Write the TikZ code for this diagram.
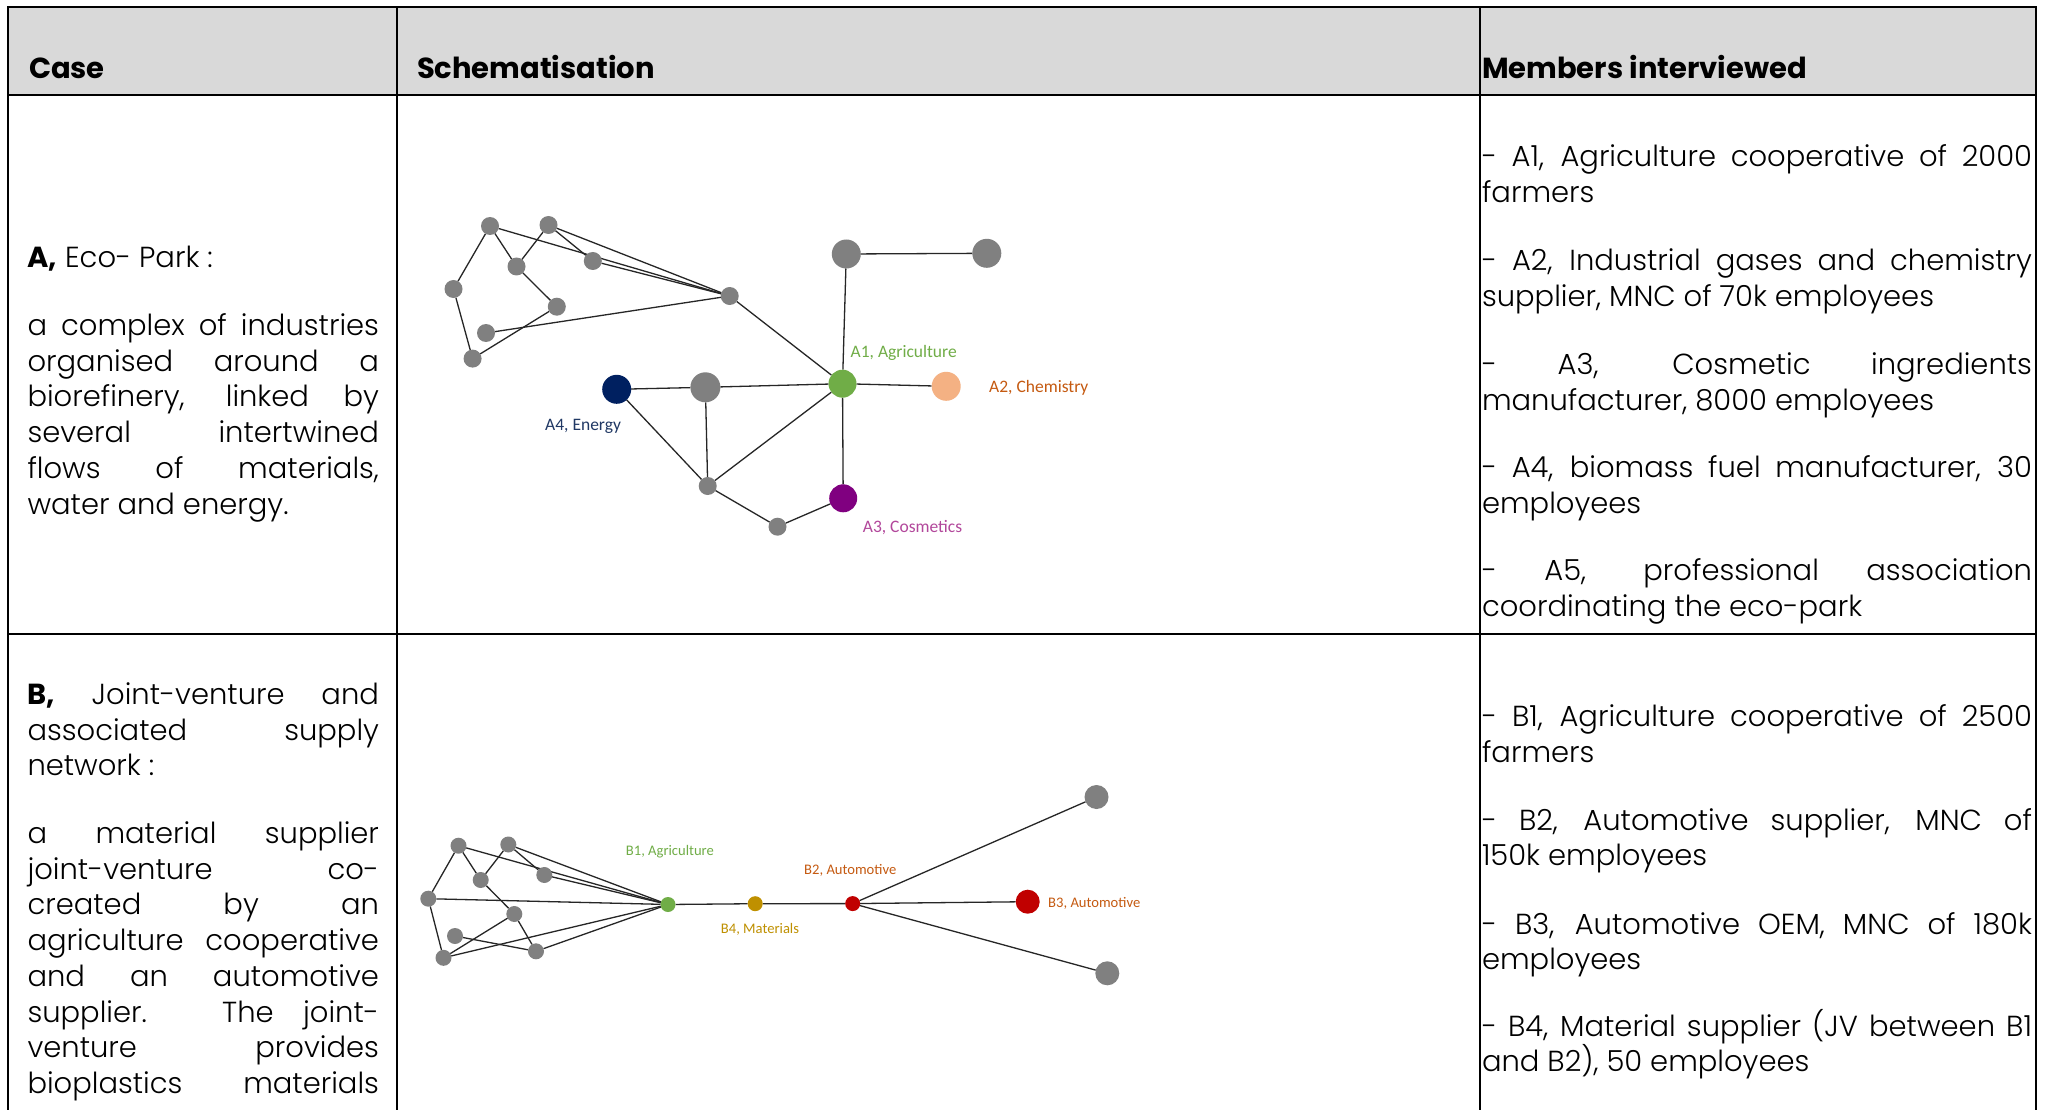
\documentclass[tikz,border=0pt]{standalone}
\usepackage{fontspec}
\usetikzlibrary{backgrounds}
\newfontfamily\popfont{Poppins}
\IfFontExistsTF{Poppins Light}{\newfontfamily\bodyfont{Poppins Light}}{\newfontfamily\bodyfont{Poppins}}
\newcommand\hfont{\popfont\bfseries}
\newfontfamily\calfont{Carlito}
\definecolor{hdrgray}{HTML}{D9D9D9}
\definecolor{nodegray}{HTML}{808080}
\definecolor{agreen}{HTML}{70AD47}
\definecolor{apeach}{HTML}{F4B183}
\definecolor{anavy}{HTML}{002060}
\definecolor{anavylbl}{HTML}{203864}
\definecolor{apurple}{HTML}{800080}
\definecolor{apink}{HTML}{B2479B}
\definecolor{aorange}{HTML}{C55A11}
\definecolor{bgold}{HTML}{BF9000}
\definecolor{bred}{HTML}{C00000}
\newcommand\jst[2]{\makebox[#1][s]{#2}}
\begin{document}
\begin{tikzpicture}[x=1pt,y=-1pt,
  tbl/.style={line width=2pt, black},
  txt/.style={anchor=base west, inner sep=0pt, outer sep=0pt, font=\bodyfont\fontsize{29}{35}\selectfont},
  hdr/.style={anchor=base west, inner sep=0pt, outer sep=0pt, font=\hfont\fontsize{29}{35}\selectfont},
  gn/.style={circle, inner sep=0pt, outer sep=0pt, fill=nodegray, minimum size=#1},
  gn/.default=18pt,
  edge/.style={line width=1.3pt, black!85},
  lblA/.style={anchor=west, inner sep=0pt, font=\calfont\fontsize{17.5}{20}\selectfont},
  lblB/.style={anchor=west, inner sep=0pt, font=\calfont\fontsize{14.6}{17}\selectfont}]
\useasboundingbox (0,0) rectangle (2057,1110);
\begin{scope}[on background layer]
\fill[white] (0,0) rectangle (2057,1110);
\end{scope}
% ---------- table ----------
\fill[hdrgray] (8,7) rectangle (2036,95);
\draw[tbl] (8,1110) -- (8,7) -- (2036,7) -- (2036,1110);
\draw[tbl] (8,95) -- (2036,95);
\draw[tbl] (8,634) -- (2036,634);
\draw[tbl] (397,7) -- (397,1110);
\draw[tbl] (1480,7) -- (1480,1110);
% headers
\node[hdr] (hcase) at (29,78.5) {Case};
\node[hdr] (hschem) at (417,78.5) {Schematisation};
\node[hdr] (hmemb) at (1482,78.5) {Members interviewed};
% ---------- case A text ----------
\node[txt] (ca0) at (27.5,267.5) {{\hfont A,} Eco- Park :};
\node[txt] (ca1) at (27.5,335.5) {\jst{351.5pt}{a complex of industries}};
\node[txt] (ca2) at (27.5,371.2) {\jst{351.5pt}{organised around a}};
\node[txt] (ca3) at (27.5,406.9) {\jst{351.5pt}{biorefinery, linked by}};
\node[txt] (ca4) at (27.5,442.6) {\jst{351.5pt}{several intertwined}};
\node[txt] (ca5) at (27.5,478.3) {\jst{351.5pt}{flows of materials,}};
\node[txt] (ca6) at (27.5,514) {water and energy.};
% ---------- case B text ----------
\node[txt] (cb0) at (27.5,704.5) {\jst{351.5pt}{{\hfont B,} Joint-venture and}};
\node[txt] (cb1) at (27.5,740.2) {\jst{351.5pt}{associated supply}};
\node[txt] (cb2) at (27.5,775.9) {network :};
\node[txt] (cb3) at (27.5,843.5) {\jst{351.5pt}{a material supplier}};
\node[txt] (cb4) at (27.5,879.2) {\jst{351.5pt}{joint-venture co-}};
\node[txt] (cb5) at (27.5,914.9) {\jst{351.5pt}{created by an}};
\node[txt] (cb6) at (27.5,950.6) {\jst{351.5pt}{agriculture cooperative}};
\node[txt] (cb7) at (27.5,986.3) {\jst{351.5pt}{and an automotive}};
\node[txt] (cb8) at (27.5,1022) {\jst{351.5pt}{supplier. The joint-}};
\node[txt] (cb9) at (27.5,1057.7) {\jst{351.5pt}{venture provides}};
\node[txt] (cb10) at (27.5,1093.4) {\jst{351.5pt}{bioplastics materials}};
% ---------- members A ----------
\node[txt] (ma1) at (1482,166.5) {\jst{550pt}{- A1, Agriculture cooperative of 2000}};
\node[txt] (ma1b) at (1482,202.5) {farmers};
\node[txt] (ma2) at (1482,270) {\jst{550pt}{- A2, Industrial gases and chemistry}};
\node[txt] (ma2b) at (1482,306) {supplier, MNC of 70k employees};
\node[txt] (ma3) at (1482,374) {\jst{550pt}{- A3, Cosmetic ingredients}};
\node[txt] (ma3b) at (1482,410) {manufacturer, 8000 employees};
\node[txt] (ma4) at (1482,477.5) {\jst{550pt}{- A4, biomass fuel manufacturer, 30}};
\node[txt] (ma4b) at (1482,513.5) {employees};
\node[txt] (ma5) at (1482,580.5) {\jst{550pt}{- A5, professional association}};
\node[txt] (ma5b) at (1482,616) {coordinating the eco-park};
% ---------- members B ----------
\node[txt] (mb1) at (1482,726.5) {\jst{550pt}{- B1, Agriculture cooperative of 2500}};
\node[txt] (mb1b) at (1482,762.5) {farmers};
\node[txt] (mb2) at (1482,830.5) {\jst{550pt}{- B2, Automotive supplier, MNC of}};
\node[txt] (mb2b) at (1482,865.5) {150k employees};
\node[txt] (mb3) at (1482,934.5) {\jst{550pt}{- B3, Automotive OEM, MNC of 180k}};
\node[txt] (mb3b) at (1482,969.5) {employees};
\node[txt] (mb4) at (1482,1036.5) {\jst{550pt}{- B4, Material supplier (JV between B1}};
\node[txt] (mb4b) at (1482,1071.5) {and B2), 50 employees};
% ---------- graph A ----------
\node[gn] (g1) at (490,226) {};
\node[gn] (g2) at (548.5,225) {};
\node[gn] (g3) at (516.5,266.5) {};
\node[gn] (g4) at (592.8,261) {};
\node[gn] (g5) at (453.5,289) {};
\node[gn] (g6) at (556.8,306.7) {};
\node[gn] (g7) at (486,333) {};
\node[gn] (g8) at (472.6,358.6) {};
\node[gn] (hub) at (729.7,296) {};
\node[gn=29pt] (t1) at (846.3,254) {};
\node[gn=29pt] (t2) at (986.8,253.3) {};
\node[gn=28pt, fill=agreen] (A1) at (842.5,383.7) {};
\node[gn=29pt, fill=apeach] (A2) at (946.2,386.3) {};
\node[gn=29pt, fill=anavy] (A4) at (616.7,389.3) {};
\node[gn=30pt] (gm) at (705.4,387.3) {};
\node[gn] (gl) at (707.7,486) {};
\node[gn] (gb) at (777.5,526.7) {};
\node[gn=28pt, fill=apurple] (A3) at (843.2,498.3) {};
\node[lblA, text=agreen] (lA1) at (850.5,352.7) {A1, Agriculture};
\node[lblA, text=aorange] (lA2) at (989,388.3) {A2, Chemistry};
\node[lblA, text=anavylbl] (lA4) at (545,426) {A4, Energy};
\node[lblA, text=apink] (lA3) at (862.7,527.7) {A3, Cosmetics};
\begin{scope}[on background layer]
\draw[edge] (g1) -- (g5);
\draw[edge] (g1) -- (g3);
\draw[edge] (g3) -- (g6);
\draw[edge] (g2) -- (g3);
\draw[edge] (g2) -- (g4);
\draw[edge] (g1) -- (hub);
\draw[edge] (g2) -- (hub);
\draw[edge] (g4) -- (hub);
\draw[edge] (g5) -- (g8);
\draw[edge] (g8) -- (g6);
\draw[edge] (g7) -- (hub);
\draw[edge] (hub) -- (A1);
\draw[edge] (t1) -- (t2);
\draw[edge] (t1) -- (A1);
\draw[edge] (A1) -- (A2);
\draw[edge] (A1) -- (gm);
\draw[edge] (A4) -- (gm);
\draw[edge] (A4) -- (gl);
\draw[edge] (gm) -- (gl);
\draw[edge] (gl) -- (A1);
\draw[edge] (gl) -- (gb);
\draw[edge] (gb) -- (A3);
\draw[edge] (A1) -- (A3);
\end{scope}
% ---------- graph B ----------
\node[gn=16pt] (b1) at (458.5,845.7) {};
\node[gn=16pt] (b2) at (508.3,844.5) {};
\node[gn=16pt] (b3) at (480.7,880) {};
\node[gn=16pt] (b4) at (544.3,875) {};
\node[gn=16pt] (b5) at (428.3,898.7) {};
\node[gn=16pt] (b6) at (514.3,914) {};
\node[gn=16pt] (b7) at (455,936) {};
\node[gn=16pt] (b8) at (443.5,957.8) {};
\node[gn=16pt] (b9) at (536,951.3) {};
\node[gn=15pt, fill=agreen] (B1) at (668,904.5) {};
\node[gn=15pt, fill=bgold] (B4) at (755.2,903.7) {};
\node[gn=15pt, fill=bred] (B2) at (852.7,903.6) {};
\node[gn=24pt, fill=bred] (B3) at (1027.7,901.7) {};
\node[gn=24pt] (bt) at (1096.5,797) {};
\node[gn=24pt] (bb) at (1107.3,973.3) {};
\node[lblB, text=agreen] (lB1) at (625.7,851.7) {B1, Agriculture};
\node[lblB, text=aorange] (lB2) at (804,870) {B2, Automotive};
\node[lblB, text=bgold] (lB4) at (720.7,929.3) {B4, Materials};
\node[lblB, text=aorange] (lB3) at (1048,903.5) {B3, Automotive};
\begin{scope}[on background layer]
\draw[edge] (b1) -- (b5);
\draw[edge] (b1) -- (b3);
\draw[edge] (b1) -- (B1);
\draw[edge] (b2) -- (b3);
\draw[edge] (b2) -- (b4);
\draw[edge] (b2) -- (B1);
\draw[edge] (b3) -- (b6);
\draw[edge] (b4) -- (B1);
\draw[edge] (b5) -- (b8);
\draw[edge] (b5) -- (B1);
\draw[edge] (b6) -- (b8);
\draw[edge] (b6) -- (b9);
\draw[edge] (b7) -- (b9);
\draw[edge] (b8) -- (B1);
\draw[edge] (b9) -- (B1);
\draw[edge] (B1) -- (B4);
\draw[edge] (B4) -- (B2);
\draw[edge] (B2) -- (B3);
\draw[edge] (B2) -- (bt);
\draw[edge] (B2) -- (bb);
\end{scope}
\end{tikzpicture}
\end{document}
